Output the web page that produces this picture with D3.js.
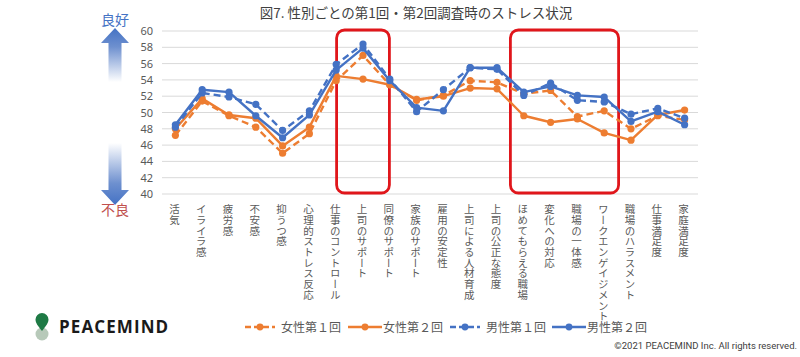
<!DOCTYPE html>
<html><head><meta charset="utf-8">
<script src="https://cdn.jsdelivr.net/npm/d3@7"></script>
<style>
html,body{margin:0;padding:0;background:#fff;}
svg{display:block;font-family:"Noto Sans CJK JP","Noto Sans",sans-serif;}
</style></head>
<body>
<svg id="chart" width="800" height="357"></svg>
<script>
const categories = ["活気","イライラ感","疲労感","不安感","抑うつ感","心理的ストレス反応","仕事のコントロール","上司のサポート","同僚のサポート","家族のサポート","雇用の安定性","上司による人材育成","上司の公正な態度","ほめてもらえる職場","変化への対応","職場の一体感","ワークエンゲイジメント","職場のハラスメント","仕事満足度","家庭満足度"];
const female1 = [47.2,51.4,49.6,48.2,45.0,47.4,53.9,57.0,53.4,51.5,52.1,53.9,53.7,52.3,52.7,49.5,50.2,48.0,49.6,49.1];
const female2 = [48.0,51.7,49.7,49.3,45.9,48.2,54.5,54.1,53.4,51.6,52.0,53.0,52.9,49.6,48.8,49.2,47.5,46.6,49.7,50.3];
const male1   = [48.2,52.4,51.9,51.0,47.8,50.2,55.9,58.4,54.1,50.1,52.8,55.5,55.3,52.1,53.6,51.5,51.3,49.8,50.5,49.3];
const male2   = [48.5,52.8,52.5,49.6,46.9,49.7,55.2,57.9,53.9,50.6,50.2,55.5,55.5,52.5,53.2,52.1,51.9,48.9,50.1,48.5];
const seriesNames = ["女性第１回","女性第２回","男性第１回","男性第２回"];
const yTicks = [40,42,44,46,48,50,52,54,56,58,60];
const highlightGroups = [["上司のサポート","上司のサポート"],["ほめてもらえる職場","ワークエンゲイジメント"]];
const title = "図7. 性別ごとの第1回・第2回調査時のストレス状況";

const series = [
  {name:seriesNames[0], values:female1, color:"#ED7D31", dash:"7,4"},
  {name:seriesNames[1], values:female2, color:"#ED7D31", dash:null},
  {name:seriesNames[2], values:male1, color:"#4472C4", dash:"7,4"},
  {name:seriesNames[3], values:male2, color:"#4472C4", dash:null}
];

const svg = d3.select("#chart");
const L = 162, R = 698, T = 31, B = 194;
const x = d3.scaleBand().domain(categories).range([L,R]);
const y = d3.scaleLinear().domain([40,60]).range([B,T]);
const cx = c => x(c) + x.bandwidth()/2;

// title
svg.append("text").attr("x",416).attr("y",18).attr("text-anchor","middle")
  .attr("font-size",13.5).attr("fill","#404040").text(title);

// gridlines
svg.append("g").selectAll("line").data(yTicks).join("line")
  .attr("x1",L).attr("x2",R).attr("y1",d=>y(d)).attr("y2",d=>y(d))
  .attr("stroke","#d9d9d9").attr("stroke-width",1);

// y axis labels
const yAxis = d3.axisLeft(y).tickValues(yTicks).tickSize(0).tickPadding(0);
const yg = svg.append("g").attr("transform",`translate(${L-9},0)`).call(yAxis);
yg.select(".domain").remove();
yg.selectAll("text").attr("font-size",11).attr("fill","#595959")
  .attr("font-family","'Noto Sans','Open Sans',sans-serif");

// x labels (vertical)
svg.append("g").selectAll("text").data(categories).join("text")
  .attr("x",d=>cx(d)-1).attr("y",204)
  .attr("writing-mode","vertical-rl")
  .style("writing-mode","vertical-rl")
  .attr("font-size",10.5).attr("fill","#595959")
  .attr("letter-spacing",0.2)
  .text(d=>d);

// highlight rects
svg.append("g").selectAll("rect").data(highlightGroups).join("rect")
  .attr("x",d=>x(d[0]) - (d[0]===d[1]?13:0))
  .attr("width",d=>x(d[1])+x.bandwidth()-x(d[0]) + (d[0]===d[1]?26:1))
  .attr("y",T-1).attr("height",B-T+0)
  .attr("rx",8).attr("ry",8)
  .attr("fill","none").attr("stroke","#E0161B").attr("stroke-width",2.8);

// lines
const line = d3.line().x((d,i)=>cx(categories[i])).y(d=>y(d));
const sg = svg.append("g").selectAll("g").data(series).join("g");
sg.append("path").attr("d",d=>line(d.values)).attr("fill","none")
  .attr("stroke",d=>d.color).attr("stroke-width",2.4)
  .attr("stroke-dasharray",d=>d.dash).attr("stroke-linejoin","round");
sg.selectAll("circle").data(d=>d.values.map(v=>({v,c:d.color}))).join("circle")
  .attr("cx",(d,i)=>cx(categories[i])).attr("cy",d=>y(d.v)).attr("r",3.6)
  .attr("fill",d=>d.c);

// arrows
const defs = svg.append("defs");
const gUp = defs.append("linearGradient").attr("id","gUp").attr("x1",0).attr("y1",0).attr("x2",0).attr("y2",1);
gUp.append("stop").attr("offset","0%").attr("stop-color","#4472C4");
gUp.append("stop").attr("offset","35%").attr("stop-color","#6E90CF");
gUp.append("stop").attr("offset","100%").attr("stop-color","#ffffff");
const gDn = defs.append("linearGradient").attr("id","gDn").attr("x1",0).attr("y1",1).attr("x2",0).attr("y2",0);
gDn.append("stop").attr("offset","0%").attr("stop-color","#4472C4");
gDn.append("stop").attr("offset","35%").attr("stop-color","#6E90CF");
gDn.append("stop").attr("offset","100%").attr("stop-color","#ffffff");
const ax = 115;
svg.append("path").attr("fill","url(#gUp)")
  .attr("d",`M${ax},28 L${ax+14},43 L${ax+6.5},43 L${ax+6.5},82 L${ax-6.5},82 L${ax-6.5},43 L${ax-14},43 Z`);
svg.append("path").attr("fill","url(#gDn)")
  .attr("d",`M${ax},205 L${ax+14},190 L${ax+6.5},190 L${ax+6.5},143 L${ax-6.5},143 L${ax-6.5},190 L${ax-14},190 Z`);
svg.append("text").attr("x",ax).attr("y",25).attr("text-anchor","middle")
  .attr("font-size",14).attr("fill","#4472C4").text("良好");
svg.append("text").attr("x",ax).attr("y",215).attr("text-anchor","middle")
  .attr("font-size",14).attr("fill","#C0504D").text("不良");

// legend
const legendX = [245,348,450,552];
const lg = svg.append("g").selectAll("g").data(series).join("g")
  .attr("transform",(d,i)=>`translate(${legendX[i]},327)`);
lg.append("line").attr("x1",0).attr("x2",d=>d.dash?30:34).attr("y1",0).attr("y2",0)
  .attr("stroke",d=>d.color).attr("stroke-width",2.6).attr("stroke-dasharray",d=>d.dash?"6,3":null);
lg.append("circle").attr("cx",d=>d.dash?15:17).attr("cy",0).attr("r",3.4).attr("fill",d=>d.color);
lg.append("text").attr("x",d=>d.dash?36:35).attr("y",4.5).attr("font-size",12).attr("fill","#595959")
  .text(d=>d.name);

// logo
svg.append("circle").attr("cx",42).attr("cy",334).attr("r",6.5).attr("fill","#B7C9B9");
svg.append("path").attr("fill","#1E7A45")
  .attr("d","M42,331 C38,326 35.5,323 35.5,319.5 A6.5,6.5 0 1 1 48.5,319.5 C48.5,323 46,326 42,331 Z");
svg.append("text").attr("x",59).attr("y",333).attr("font-size",17).attr("font-weight","bold")
  .attr("font-family","'Open Sans','Noto Sans',sans-serif").attr("fill","#1a1a1a")
  .attr("letter-spacing",1.1).text("PEACEMIND");

// copyright
svg.append("text").attr("x",797).attr("y",349).attr("text-anchor","end")
  .attr("font-size",9.5).attr("fill","#404040")
  .attr("font-family","'Liberation Sans Narrow','Roboto','Noto Sans',sans-serif")
  .text("©2021 PEACEMIND Inc. All rights reserved.");
</script>
</body></html>
